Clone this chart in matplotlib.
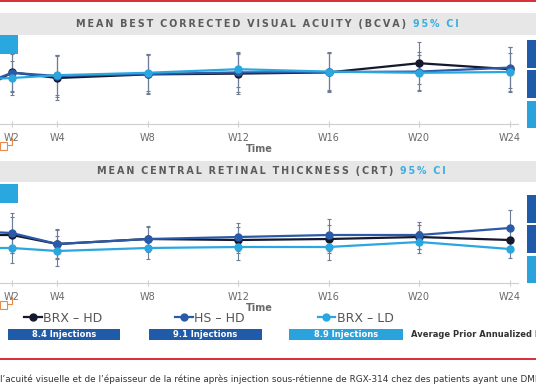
import numpy as np
import matplotlib.pyplot as plt
from matplotlib.patches import Rectangle

# Mean BCVA / CRT over 24 weeks, three cohorts, with 95% CI whiskers.
# Values (no y scale is shown, so units are relative).

weeks = np.array([0, 2, 4, 8, 12, 16, 20, 24])
tick_weeks = [2, 4, 8, 12, 16, 20, 24]
tick_labels = ["W2", "W4", "W8", "W12", "W16", "W20", "W24"]

# BCVA (relative letters)
bcva_brx_hd = np.array([6.5, 12.9, 11.5, 12.4, 12.6, 12.9, 15.2, 13.7])
bcva_hs_hd = np.array([8.5, 12.8, 12.0, 12.5, 12.9, 13.0, 13.1, 14.1])
bcva_brx_ld = np.array([11.0, 11.5, 12.2, 12.8, 13.7, 13.1, 12.8, 13.0])
bcva_err_brx_hd = np.array([4.0, 4.9, 5.6, 5.0, 5.0, 5.0, 5.2, 5.6])
bcva_err_hs_hd = np.array([4.0, 4.6, 5.2, 4.8, 4.8, 4.8, 4.8, 5.2])
bcva_err_brx_ld = np.array([4.0, 4.2, 5.0, 4.6, 4.4, 4.6, 4.4, 4.8])

# CRT (relative microns)
crt_brx_hd = np.array([96, 96, 78, 88, 86, 88, 92, 86])
crt_hs_hd = np.array([104, 100, 78, 88, 92, 96, 96, 110])
crt_brx_ld = np.array([70, 70, 64, 70, 72, 72, 82, 68])
crt_err_brx_hd = np.array([30, 36, 28, 24, 26, 28, 24, 24])
crt_err_hs_hd = np.array([30, 40, 30, 26, 28, 32, 27, 36])
crt_err_brx_ld = np.array([30, 30, 30, 22, 26, 26, 22, 18])

series = ["BRX \u2013 HD", "HS \u2013 HD", "BRX \u2013 LD"]
colors = ["#15192e", "#2a5aa8", "#2aa7df"]
injections = ["8.4 Injections", "9.1 Injections", "8.9 Injections"]
box_colors = ["#1f5ba8", "#1f5ba8", "#2aa3dd"]

W, H = 536, 386
fig = plt.figure(figsize=(W / 100, H / 100), dpi=100)
fig.patch.set_facecolor("white")


def px(x0, y0, x1, y1):
    # pixel box (top-left origin) -> figure fraction rect
    return [x0 / W, 1 - y1 / H, (x1 - x0) / W, (y1 - y0) / H]


def rect(x0, y0, x1, y1, color, **kw):
    fig.patches.append(Rectangle((x0 / W, 1 - y1 / H), (x1 - x0) / W, (y1 - y0) / H,
                                 transform=fig.transFigure, facecolor=color,
                                 edgecolor="none", **kw))


def spaced(s):
    return "  ".join("\u2009".join(w) for w in s.split(" "))


# red rules
rect(0, 0, W, 2, "#d8323c")
rect(0, 358, W, 360, "#d8323c")

panels = [
    (13, 35, 37, 124, "MEAN BEST CORRECTED VISUAL ACUITY (BCVA)", 406, 40,
     (bcva_brx_hd, bcva_hs_hd, bcva_brx_ld),
     (bcva_err_brx_hd, bcva_err_hs_hd, bcva_err_brx_ld), (0, 21.75)),
    (161, 182, 186, 283, "MEAN CENTRAL RETINAL THICKNESS (CRT)", 393, 195,
     (crt_brx_hd, crt_hs_hd, crt_brx_ld),
     (crt_err_brx_hd, crt_err_hs_hd, crt_err_brx_ld), (0, 194)),
]

handles = []
for bar0, bar1, top, bottom, title, title_end, box_top, vals, errs, ylim in panels:
    rect(0, bar0, W, bar1, "#e7e7e7")
    yc = 1 - (bar0 + bar1) / 2 / H
    fig.text(title_end / W, yc, spaced(title), ha="right", va="center",
             fontsize=6.9, fontweight="bold", color="#5b5b5b")
    fig.text((title_end + 7) / W, yc, spaced("95% CI"), ha="left", va="center",
             fontsize=6.9, fontweight="bold", color="#3aaee0")

    ax = fig.add_axes(px(0, top, 518, bottom))
    ax.patch.set_alpha(0)
    handles = []
    for v, e, c, name in zip(vals, errs, colors, series):
        ax.errorbar(weeks, v, yerr=e, fmt="none", ecolor="#6f7c96",
                    elinewidth=0.8, capsize=1.5, capthick=0.8, zorder=2)
        h, = ax.plot(weeks, v, "-o", color=c, lw=1.6, ms=5, label=name, zorder=3)
        handles.append(h)
    ax.set_xlim(1.47, 24.37)
    ax.set_ylim(*ylim)
    ax.set_xticks(tick_weeks)
    ax.set_xticklabels(tick_labels)
    ax.set_yticks([])
    for s in ["top", "left", "right"]:
        ax.spines[s].set_visible(False)
    ax.spines["bottom"].set_color("#cfcfcf")
    ax.tick_params(axis="x", direction="inout", length=4, color="#cfcfcf",
                   labelsize=7, labelcolor="#6a6a6a", pad=4.5)
    ax.set_xlabel("Time", fontsize=7, fontweight="bold", color="#6a6a6a", labelpad=1)

    # side boxes cut off at the right edge
    for (y0, y1), bc in zip([(0, 28), (30, 58), (61, 88)], box_colors):
        rect(527, box_top + y0, W, box_top + y1, bc)
    # little cyan tag at the left
    rect(0, top - 2, 18, top + 17, "#2aa7df")
    # orange marker near W2 label
    oy = bottom + 21
    fig.add_artist(Rectangle((0, 1 - (oy + 5) / H), 7 / W, 8 / H, transform=fig.transFigure,
                             facecolor="none", edgecolor="#e88a4a", lw=0.8))
    fig.add_artist(plt.Line2D([7 / W, 12 / W, 12 / W], [1 - oy / H, 1 - oy / H, 1 - (oy - 7) / H],
                              transform=fig.transFigure, color="#e88a4a", lw=0.8))

fig.legend(handles=handles, loc="center left", bbox_to_anchor=(24 / W, 1 - 318 / H),
           ncol=3, frameon=False, fontsize=9, handlelength=1.4, handletextpad=0.15,
           columnspacing=5.8, labelcolor="#555555", borderaxespad=0, borderpad=0)

for (x0, x1), bc, txt in zip([(8, 120), (149, 262), (289, 403)], box_colors, injections):
    rect(x0, 329, x1, 340, bc)
    fig.text((x0 + x1) / 2 / W, 1 - 334.5 / H, txt, ha="center", va="center",
             fontsize=6, fontweight="bold", color="white")
fig.text(411 / W, 1 - 334.5 / H, "Average Prior Annualized Injections", ha="left",
         va="center", fontsize=6, fontweight="bold", color="#333333")

fig.text(0, 1 - 379 / H,
         "l\u2019acuit\u00e9 visuelle et de l\u2019\u00e9paisseur de la r\u00e9tine apr\u00e8s "
         "injection sous-r\u00e9tienne de RGX-314 chez des patients ayant une DMLA",
         ha="left", va="center", fontsize=6.4, color="#333333")

fig.savefig("out.png", dpi=100)
